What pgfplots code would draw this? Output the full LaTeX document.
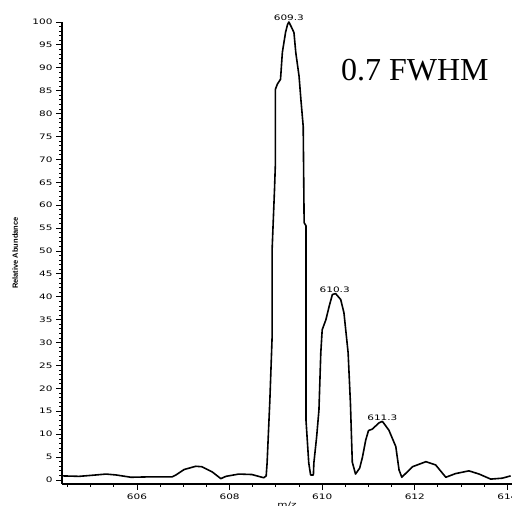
\documentclass[border=0pt]{standalone}
\usepackage{fontspec}
\setmainfont{Liberation Sans}
\newfontfamily\tickfont{DejaVu Sans}
\newfontfamily\serifbig{Liberation Serif}
\usepackage{pgfplots}
\pgfplotsset{compat=1.18}
\usetikzlibrary{calc}

\newcommand{\wide}[1]{\scalebox{1.4}[1]{#1}}

\pgfplotstableread{
mz y
604.38 0.9
604.75 0.8
605.11 1.1
605.33 1.3
605.55 1.1
605.87 0.6
606.32 0.7
606.76 0.7
606.84 1.1
607.02 2.3
607.27 3.0
607.40 2.9
607.62 1.8
607.71 1.1
607.81 0.3
607.92 0.8
608.20 1.3
608.48 1.2
608.70 0.6
608.74 0.5
608.79 0.9
608.81 3.7
608.87 17.5
608.92 31.7
608.92 50.7
608.97 63.4
608.99 69.3
608.99 85.3
609.03 86.4
609.10 87.5
609.14 93.4
609.21 97.8
609.25 99.4
609.28 100
609.33 99.0
609.39 97.7
609.43 93.3
609.50 88.2
609.54 83.1
609.59 77.2
609.61 56.2
609.65 55.5
609.65 13.1
609.71 3.7
609.75 1.1
609.81 1.1
609.82 3.7
609.88 9.4
609.93 15.3
609.97 27.8
610.00 32.8
610.08 35.0
610.15 37.9
610.22 40.5
610.29 40.7
610.40 39.4
610.47 36.5
610.56 27.8
610.61 16.8
610.65 3.9
610.72 1.3
610.81 2.6
610.87 5.0
610.94 8.7
611.00 10.8
611.08 11.1
611.23 12.5
611.30 12.8
611.44 10.9
611.59 7.3
611.66 2.2
611.72 0.6
611.95 2.9
612.24 4.0
612.45 3.3
612.67 0.6
612.88 1.4
613.17 2.0
613.39 1.3
613.64 0.2
613.89 0.4
614.07 0.9
}\spectrum

\begin{document}
\begin{tikzpicture}
\begin{axis}[
    name=ax,
    scale only axis,
    width=450pt, height=462pt,
    xmin=604.38, xmax=614.10,
    ymin=-0.87, ymax=100,
    axis x line=bottom, axis y line=left,
    axis line style={-, line width=1.2pt},
    tick align=outside,
    major tick length=6pt, minor tick length=3pt,
    every tick/.style={black, line width=0.9pt},
    xtick={606,608,...,614},
    minor xtick={604.5,605,...,614},
    ytick={0,5,...,100},
    minor ytick={1,2,...,99},
    /pgf/number format/assume math mode=true,
    xticklabel={\wide{\pgfmathprintnumber{\tick}}},
    yticklabel={\wide{\pgfmathprintnumber{\tick}}},
    tick label style={font=\tickfont\fontsize{7.5}{8}\selectfont},
    xlabel={\wide{m/z}},
    xlabel style={at={(axis description cs:0.5,0)}, anchor=north, yshift=-15pt, font=\tickfont\fontsize{7.5}{8}\selectfont},
    ylabel={Relative Abundance},
    ylabel style={at={(axis description cs:-0.104,0.5)}, anchor=center, font=\bfseries\fontsize{7.5}{8}\selectfont},
    clip=false,
]
\addplot[black, line width=1.6pt, line join=round] table[x=mz, y=y] {\spectrum};
\node[anchor=south, font=\tickfont\fontsize{7.5}{8}\selectfont, inner sep=1pt] at (axis cs:609.28,100) {\wide{609.3}};
\node[anchor=south, font=\tickfont\fontsize{7.5}{8}\selectfont, inner sep=1pt] at (axis cs:610.27,40.7) {\wide{610.3}};
\node[anchor=south, font=\tickfont\fontsize{7.5}{8}\selectfont, inner sep=1pt] at (axis cs:611.30,12.8) {\wide{611.3}};
\node[font=\serifbig\fontsize{32}{36}\selectfont] at (axis cs:612.0,89.5) {0.7 FWHM};
\end{axis}
\pgfresetboundingbox
\path[use as bounding box] ($(ax.south west)+(-62pt,-22pt)$) rectangle ($(ax.north east)+(0pt,22pt)$);
\end{tikzpicture}
\end{document}
